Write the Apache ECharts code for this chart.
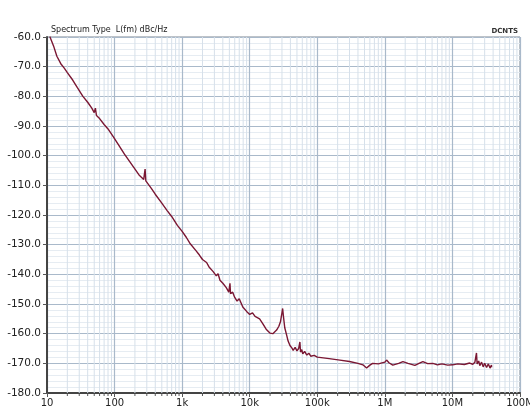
<!DOCTYPE html>
<html>
<head>
<meta charset="utf-8">
<script src="https://cdn.jsdelivr.net/npm/echarts@6/dist/echarts.min.js"></script>
<style>
html, body { margin: 0; padding: 0; background: #fff; }
#chart { width: 530px; height: 408px; }
</style>
</head>
<body>
<div id="chart"></div>
<script>
// phase noise trace: [offset Hz, dBc/Hz]
var trace = [
  [11, -59.8], [12.5, -63], [14, -66.5], [16, -69], [18, -70.5], [20, -72], [24, -74.5],
  [28, -77], [34, -80], [40, -82], [46, -84], [50, -85.5], [52, -84], [54, -86.5],
  [60, -87.5], [70, -89.5], [80, -91], [95, -93.5], [112, -96], [140, -99.5],
  [180, -103], [230, -106.5], [270, -108], [283, -104.5], [290, -108.5], [350, -111],
  [400, -113], [500, -116], [600, -118.5], [700, -120.5], [850, -123.5], [1000, -125.5],
  [1150, -127.5], [1300, -129.5], [1600, -132], [1800, -133.5], [2000, -135], [2300, -136],
  [2500, -137.5], [2860, -139], [3200, -140.5], [3400, -139.8], [3630, -142], [4000, -143],
  [4500, -144.5], [4900, -146], [5100, -143], [5200, -146.5], [5600, -146], [6000, -147.8],
  [6500, -149], [7000, -148.2], [7900, -151], [9000, -152.5], [10000, -153.5], [11000, -153],
  [12000, -154.2], [14000, -155], [15500, -156.5], [17500, -158.5], [19900, -159.8],
  [22000, -160], [25000, -158.8], [27000, -157.5], [28500, -156], [30000, -153], [30700, -151.5],
  [31500, -154], [33000, -158], [35200, -160.5], [37000, -162.5], [39400, -164], [42000, -164.8],
  [44000, -165.6], [47000, -164.6], [50000, -165.8], [53000, -165], [55300, -162.8], [56500, -166.2],
  [59000, -165.4], [61000, -166.8], [65000, -166], [70000, -167.2], [75000, -166.6], [80000, -167.6],
  [90000, -167.3], [100000, -167.9], [150000, -168.4], [216000, -168.9], [300000, -169.4],
  [400000, -170], [473000, -170.5], [537000, -171.6], [600000, -170.6], [661000, -170],
  [800000, -170.2], [1000000, -169.6], [1060000, -168.9], [1150000, -169.8], [1310000, -170.6],
  [1600000, -170], [1850000, -169.4], [2200000, -170], [2780000, -170.7], [3200000, -170],
  [3650000, -169.4], [4300000, -170.1], [5130000, -170], [6000000, -170.5], [7000000, -170.2],
  [8500000, -170.6], [10100000, -170.5], [12000000, -170.2], [15000000, -170.4], [18000000, -169.9],
  [20000000, -170.3], [21500000, -169.6], [22700000, -166.5], [23200000, -170.2], [24500000, -169.2],
  [25400000, -170.8], [27000000, -169.6], [28500000, -171.2], [30000000, -170], [32000000, -171.4],
  [34000000, -170.2], [36000000, -171.6], [37800000, -170.6], [38000000, -171.3]
];

var decadeLabels = ['10', '100', '1k', '10k', '100k', '1M', '10M', '100M'];
var yTicks = [-60, -70, -80, -90, -100, -110, -120, -130, -140, -150, -160, -170, -180];

// minor log positions 2..9 in each decade
var minorX = [];
for (var d = 1; d < 8; d++) {
  for (var m = 2; m <= 9; m++) minorX.push([m * Math.pow(10, d), -180]);
}

var chart = echarts.init(document.getElementById('chart'));
var option = {
  animation: false,
  backgroundColor: '#fff',
  textStyle: { fontFamily: 'DejaVu Sans' },
  graphic: [
    { type: 'text', left: 51, top: 26, style: { text: 'Spectrum Type  L(fm) dBc/Hz', font: '8px "DejaVu Sans"', fill: '#222' } },
    { type: 'text', right: 12, top: 28, style: { text: 'DCNTS', font: 'bold 7px "DejaVu Sans"', fill: '#333' } }
  ],
  grid: {
    left: 47, right: 10, top: 37, bottom: 15,
    outerBoundsMode: 'none',
    containLabel: false,
    show: true, borderColor: '#7d8792', borderWidth: 1, backgroundColor: '#fff'
  },
  xAxis: {
    type: 'log', logBase: 10, min: 10, max: 100000000,
    axisLine: { show: true, lineStyle: { color: '#444', width: 2 } },
    axisTick: { show: true, length: 4, inside: false, lineStyle: { color: '#555' } },
    axisLabel: {
      color: '#222', fontSize: 10, margin: 5,
      formatter: function (v) { return decadeLabels[Math.round(Math.log10(v)) - 1]; }
    },
    splitLine: { show: true, lineStyle: { color: '#a9b9ca', width: 1.2 } }
  },
  yAxis: {
    type: 'value', min: -180, max: -60, interval: 10,
    axisLine: { show: true, lineStyle: { color: '#444', width: 2 } },
    axisTick: { show: true, length: 4, lineStyle: { color: '#555' } },
    axisLabel: {
      color: '#222', fontSize: 10.5, margin: 6,
      formatter: function (v) { return yTicks.indexOf(v) >= 0 ? v.toFixed(1) : ''; }
    },
    splitLine: { show: true, lineStyle: { color: '#a9b9ca', width: 1.2 } },
    minorTick: { show: false, splitNumber: 5 },
    minorSplitLine: { show: true, lineStyle: { color: '#e6ecf2' } }
  },
  series: [
    {
      type: 'custom',
      silent: true,
      clip: false,
      z: 1,
      data: minorX,
      encode: { x: 0, y: 1 },
      renderItem: function (params, api) {
        var x = api.value(0);
        var top = api.coord([x, -60]);
        var bot = api.coord([x, -180]);
        return {
          type: 'group',
          children: [
            { type: 'line', shape: { x1: bot[0], y1: top[1], x2: bot[0], y2: bot[1] }, style: { stroke: '#d6e0ea', lineWidth: 1 } },
            { type: 'line', shape: { x1: bot[0], y1: bot[1] + 1, x2: bot[0], y2: bot[1] + 3 }, style: { stroke: '#555', lineWidth: 1 } }
          ]
        };
      }
    },
    {
      type: 'line',
      data: trace,
      showSymbol: false,
      z: 3,
      lineStyle: { color: '#7a1733', width: 1.4 }
    }
  ]
};
chart.setOption(option);
</script>
</body>
</html>
